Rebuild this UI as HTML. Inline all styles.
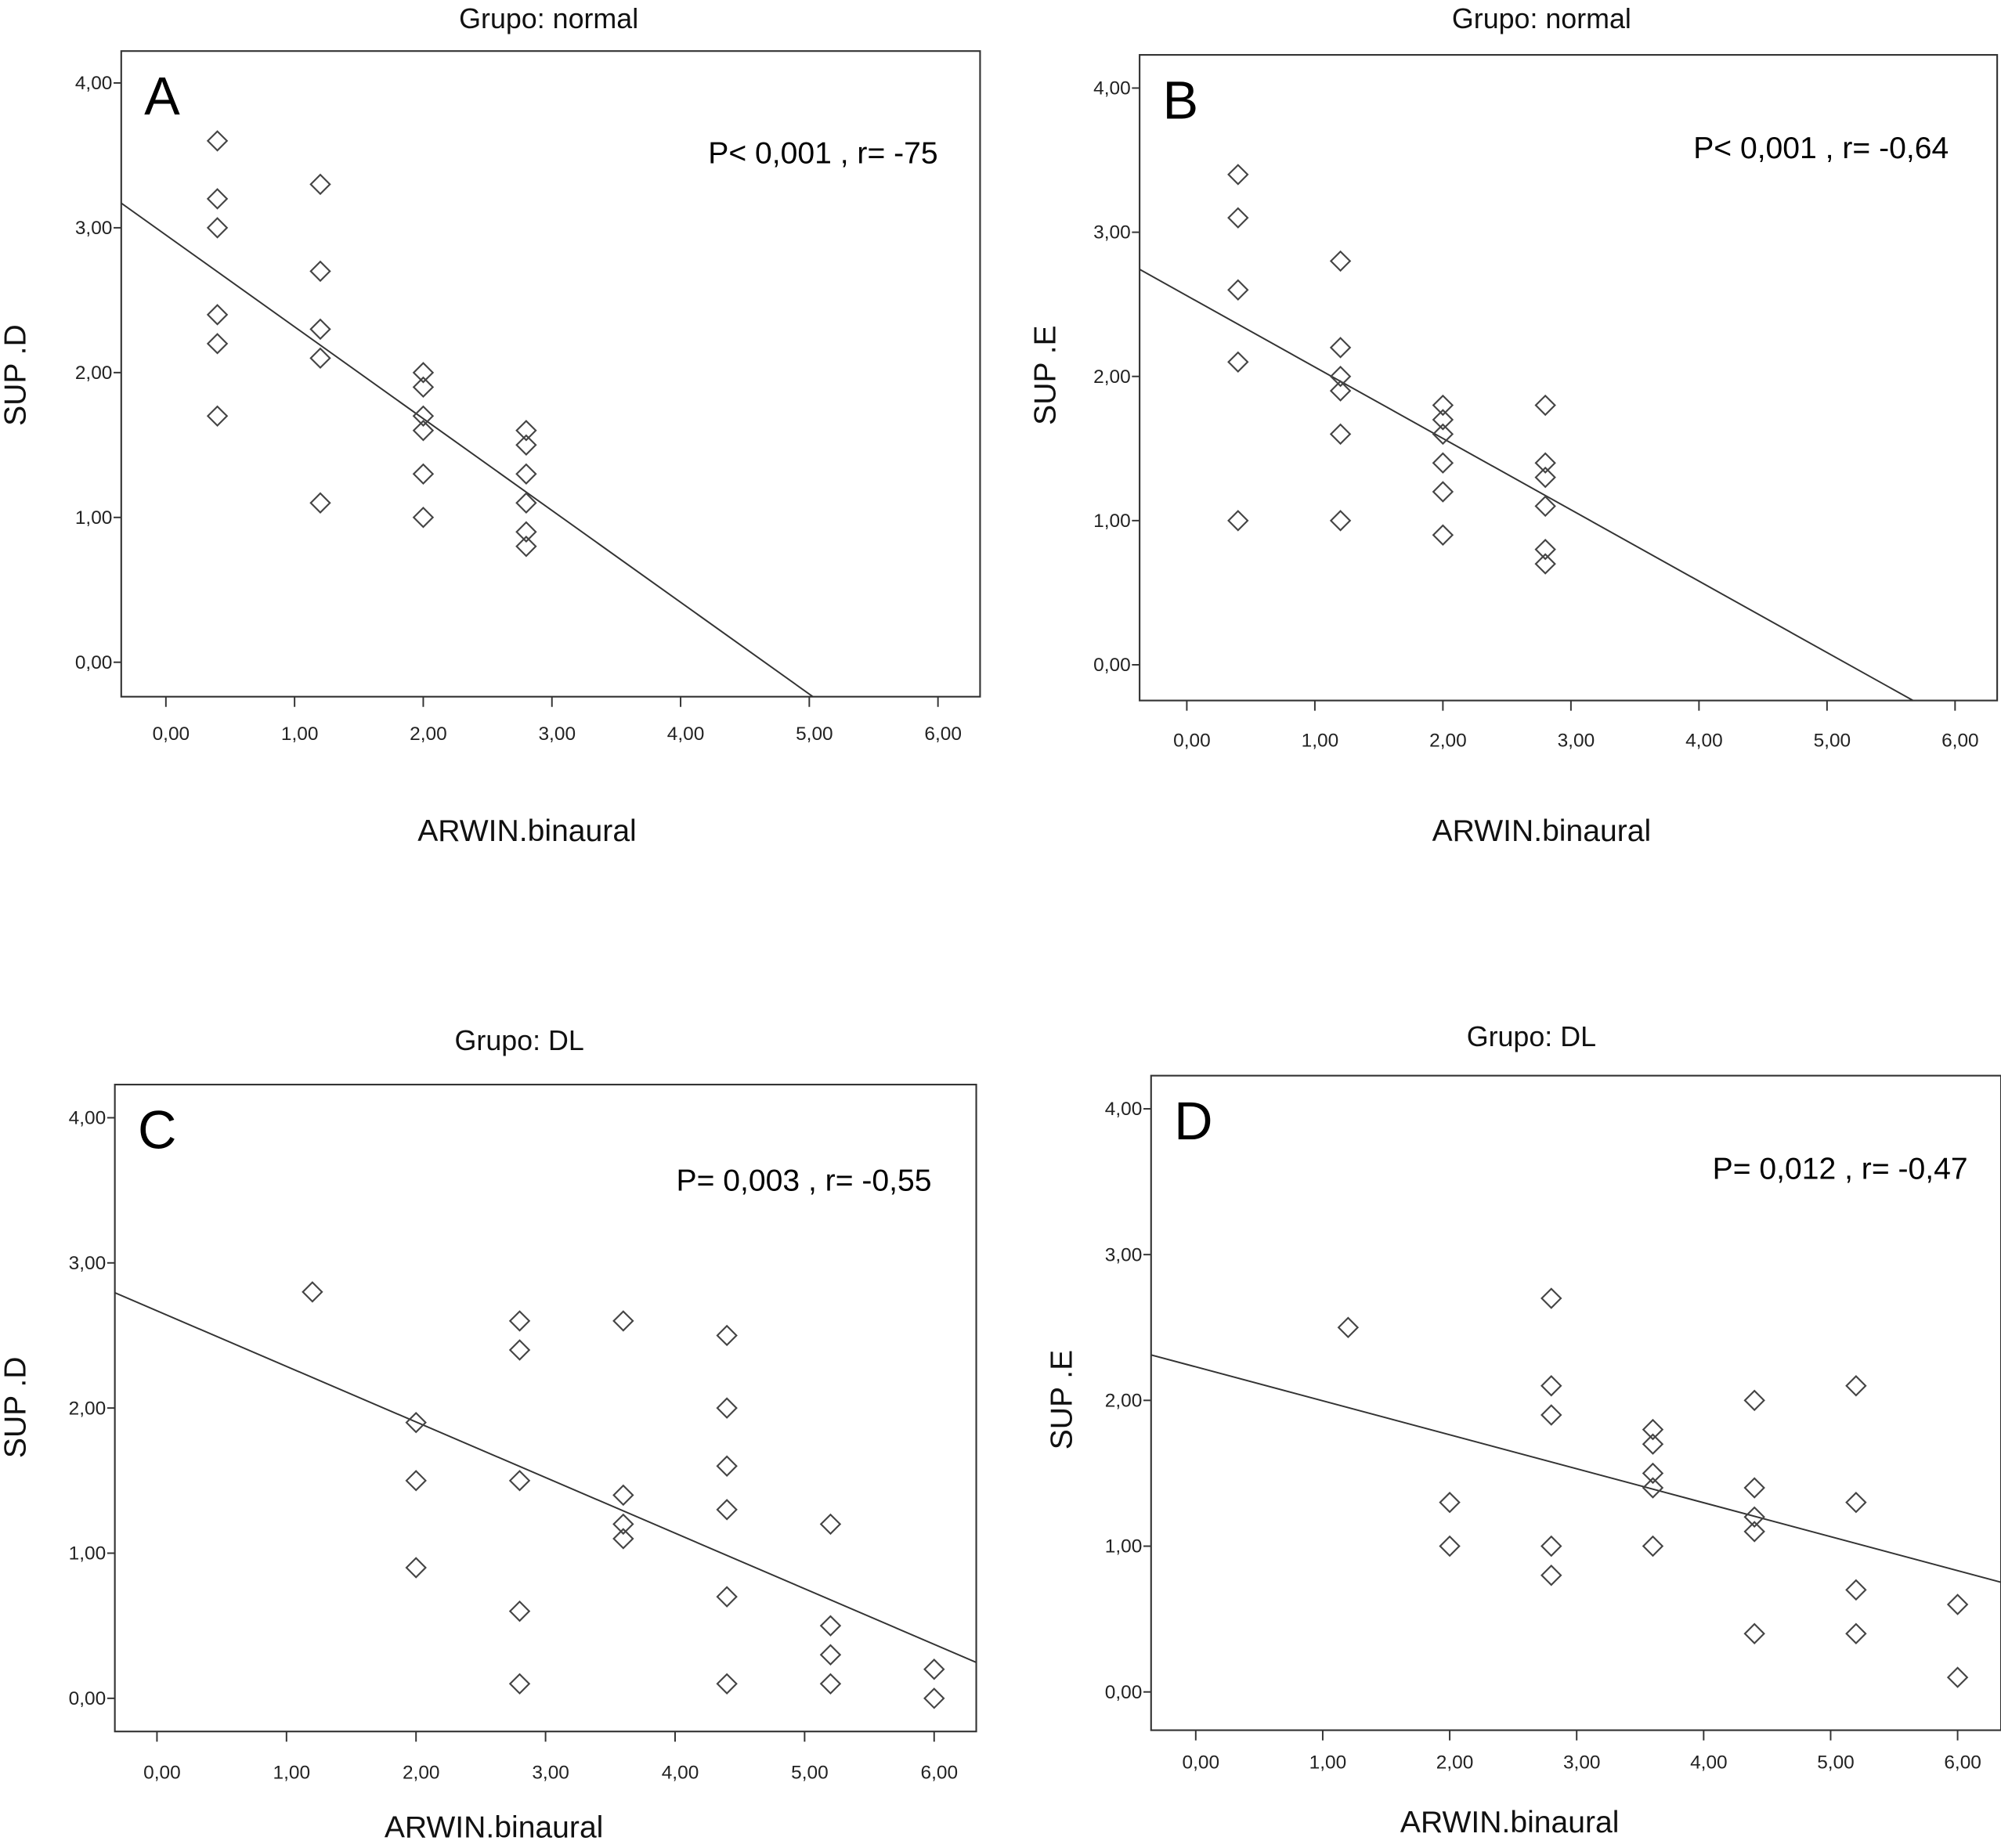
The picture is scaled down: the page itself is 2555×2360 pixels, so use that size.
<!DOCTYPE html>
<html><head><meta charset="utf-8"><style>
html,body{margin:0;padding:0;background:#fff;}
svg{display:block;font-family:"Liberation Sans",sans-serif;}
</style></head><body>
<svg id="fig" width="2555" height="2360" viewBox="0 0 1568 1448.3" xmlns="http://www.w3.org/2000/svg"></svg>
<script>
// ---- data ----
const xTicks = [0,1,2,3,4,5,6];
const yTicks = [0,1,2,3,4];
const tickLabels = ["0,00","1,00","2,00","3,00","4,00","5,00","6,00"];
const aX = [0.4,0.4,0.4,0.4,0.4,0.4,1.2,1.2,1.2,1.2,1.2,2,2,2,2,2,2,2.8,2.8,2.8,2.8,2.8,2.8];
const aY = [3.6,3.2,3.0,2.4,2.2,1.7,3.3,2.7,2.3,2.1,1.1,2.0,1.9,1.7,1.6,1.3,1.0,1.6,1.5,1.3,1.1,0.9,0.8];
const bX = [0.4,0.4,0.4,0.4,0.4,1.2,1.2,1.2,1.2,1.2,1.2,2,2,2,2,2,2,2.8,2.8,2.8,2.8,2.8,2.8];
const bY = [3.4,3.1,2.6,2.1,1.0,2.8,2.2,2.0,1.9,1.6,1.0,1.8,1.7,1.6,1.4,1.2,0.9,1.8,1.4,1.3,1.1,0.8,0.7];
const cX = [1.2,2,2,2,2.8,2.8,2.8,2.8,2.8,3.6,3.6,3.6,3.6,4.4,4.4,4.4,4.4,4.4,4.4,5.2,5.2,5.2,5.2,6,6];
const cY = [2.8,1.9,1.5,0.9,2.6,2.4,1.5,0.6,0.1,2.6,1.4,1.2,1.1,2.5,2.0,1.6,1.3,0.7,0.1,1.2,0.5,0.3,0.1,0.2,0.0];
const dX = [1.2,2,2,2.8,2.8,2.8,2.8,2.8,3.6,3.6,3.6,3.6,3.6,4.4,4.4,4.4,4.4,4.4,5.2,5.2,5.2,5.2,6,6];
const dY = [2.5,1.3,1.0,2.7,2.1,1.9,1.0,0.8,1.8,1.7,1.5,1.4,1.0,2.0,1.4,1.2,1.1,0.4,2.1,1.3,0.7,0.4,0.6,0.1];
const fitSlope = [-0.634,-0.495,-0.383,-0.233];
const fitIntercept = [2.95,2.56,2.67,2.23];

const panels = [
 {id:"a",letter:"A",title:"Grupo: normal",ylab:"SUP .D",stat:"P< 0,001 , r= -75",fl:95,ft:40,fr:768,fb:546,x0:130,x6:735,y0:519,y4:65,xs:aX,ys:aY,titleX:430,titleY:22,xtY:659,xtX:413,ytX:20,ytY:294,statX:735,statY:128,tlY:580},
 {id:"b",letter:"B",title:"Grupo: normal",ylab:"SUP .E",stat:"P< 0,001 , r= -0,64",fl:893,ft:43,fr:1565,fb:549,x0:930,x6:1532,y0:521,y4:69,xs:bX,ys:bY,titleX:1208,titleY:22,xtY:659,xtX:1208,ytX:827,ytY:294,statX:1527,statY:124,tlY:585},
 {id:"c",letter:"C",title:"Grupo: DL",ylab:"SUP .D",stat:"P= 0,003 , r= -0,55",fl:90,ft:850,fr:765,fb:1357,x0:123,x6:732,y0:1331,y4:876,xs:cX,ys:cY,titleX:407,titleY:823,xtY:1440,xtX:387,ytX:20,ytY:1103,statX:730,statY:933,tlY:1394},
 {id:"d",letter:"D",title:"Grupo: DL",ylab:"SUP .E",stat:"P= 0,012 , r= -0,47",fl:902,ft:843,fr:1568,fb:1356,x0:937,x6:1534,y0:1326,y4:869,xs:dX,ys:dY,titleX:1200,titleY:820,xtY:1436,xtX:1183,ytX:840,ytY:1097,statX:1542,statY:924,tlY:1386}
];
const NS="http://www.w3.org/2000/svg";
const svg=document.getElementById('fig');
function mk(tag,attrs,parent){const e=document.createElementNS(NS,tag);for(const k in attrs)e.setAttribute(k,attrs[k]);parent.appendChild(e);return e;}
panels.forEach((p,pi)=>{
  const g=mk('g',{},svg);
  
  
  const sx=v=>p.x0+(p.x6-p.x0)*v/6;
  const sy=v=>p.y0-(p.y0-p.y4)*v/4;
  const clipId='clip'+p.id;
  const cp=mk('clipPath',{id:clipId},g);
  mk('rect',{x:p.fl,y:p.ft,width:p.fr-p.fl,height:p.fb-p.ft},cp);
  const fr=mk('rect',{x:p.fl,y:p.ft,width:p.fr-p.fl,height:p.fb-p.ft,fill:'none',stroke:'#333','stroke-width':1.3},g);
  
  
  const t=mk('text',{x:p.titleX,y:p.titleY,'text-anchor':'middle','font-size':22,fill:'#111'},g);t.textContent=p.title;
  
  
  const L=mk('text',{x:p.fl+18,y:p.ft+50,'font-size':42,fill:'#000'},g);L.textContent=p.letter;
  
  
  const st=mk('text',{x:p.statX,y:p.statY,'text-anchor':'end','font-size':24,fill:'#000'},g);st.textContent=p.stat;
  
  
  const xt=mk('text',{x:p.xtX,y:p.xtY,'text-anchor':'middle','font-size':24,fill:'#111'},g);xt.textContent='ARWIN.binaural';
  
  
  const yt=mk('text',{x:p.ytX,y:p.ytY,'text-anchor':'middle','font-size':24,fill:'#111',transform:`rotate(-90 ${p.ytX} ${p.ytY})`},g);yt.textContent=p.ylab;
  
  
  xTicks.forEach((v,i)=>{
    mk('line',{x1:sx(v),x2:sx(v),y1:p.fb,y2:p.fb+8,stroke:'#333','stroke-width':1.2},g);
    const tl=mk('text',{x:sx(v)+4,y:p.tlY,'text-anchor':'middle','font-size':15,fill:'#222'},g);tl.textContent=tickLabels[i];
    
    
  });
  yTicks.forEach((v,i)=>{
    mk('line',{x1:p.fl-6,x2:p.fl,y1:sy(v),y2:sy(v),stroke:'#333','stroke-width':1.2},g);
    const tl=mk('text',{x:p.fl-7,y:sy(v)+5,'text-anchor':'end','font-size':15,fill:'#222'},g);tl.textContent=tickLabels[i];
    
    
  });
  const xa=-1,xb=8;
  const ln=mk('line',{x1:sx(xa),y1:sy(fitIntercept[pi]+fitSlope[pi]*xa),x2:sx(xb),y2:sy(fitIntercept[pi]+fitSlope[pi]*xb),stroke:'#333','stroke-width':1.2,'clip-path':`url(#${clipId})`},g);
  
  
  p.xs.forEach((xv,i)=>{
    const cx=sx(xv),cy=sy(p.ys[i]),r=7.5;
    const d=mk('polygon',{points:`${cx},${cy-r} ${cx+r},${cy} ${cx},${cy+r} ${cx-r},${cy}`,fill:'none',stroke:'#444','stroke-width':1.3},g);
    
    
  });
});
</script>
</body></html>
